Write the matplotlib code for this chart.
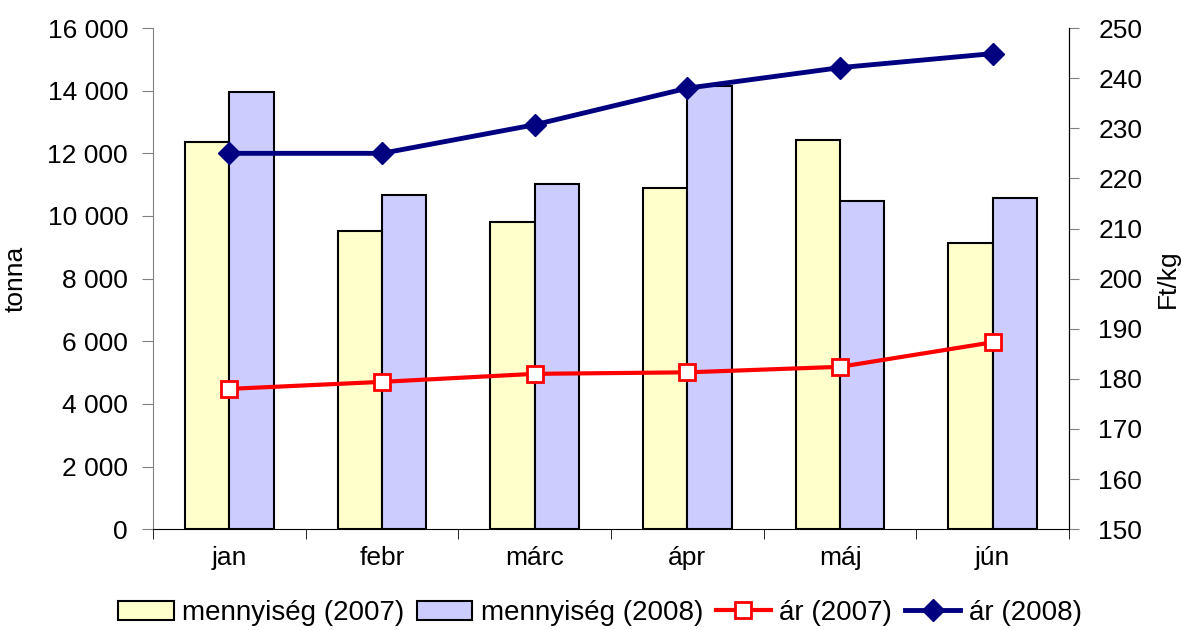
import matplotlib.pyplot as plt
import numpy as np
from matplotlib.ticker import FuncFormatter, FixedLocator

plt.rcParams['font.family'] = ['Liberation Sans', 'DejaVu Sans']
plt.rcParams['font.size'] = 19

months = ['jan', 'febr', 'márc', 'ápr', 'máj', 'jún']
qty_2007 = [12370, 9520, 9810, 10890, 12430, 9140]
qty_2008 = [13950, 10660, 11010, 14150, 10490, 10580]
price_2007 = [178.0, 179.4, 181.0, 181.3, 182.4, 187.3]
price_2008 = [225.0, 225.0, 230.7, 238.0, 242.1, 244.9]


def main():
    fig = plt.figure(figsize=(11.81, 6.30), dpi=100)
    ax = fig.add_axes([0.1296, 0.160, 0.7756, 0.7955])
    ax2 = ax.twinx()

    x = np.arange(len(months))
    w = 0.29
    b1 = ax.bar(x - w / 2, qty_2007, w, color='#FFFFCC', edgecolor='black',
                linewidth=1.5, label='mennyiség (2007)', zorder=2)
    b2 = ax.bar(x + w / 2, qty_2008, w, color='#CCCCFF', edgecolor='black',
                linewidth=1.5, label='mennyiség (2008)', zorder=2)

    l1, = ax2.plot(x, price_2007, '-', color='#FF0000', lw=3, marker='s',
                   markersize=11, markerfacecolor='white', markeredgecolor='#FF0000',
                   markeredgewidth=2, label='ár (2007)')
    l2, = ax2.plot(x, price_2008, '-', color='#000080', lw=3.5, marker='D',
                   markersize=11, markerfacecolor='#000080', markeredgecolor='#000080',
                   label='ár (2008)')

    ax.set_xlim(-0.5, len(months) - 0.5)
    ax.set_ylim(0, 16000)
    ax.set_yticks(np.arange(0, 16001, 2000))
    ax.yaxis.set_major_formatter(FuncFormatter(lambda v, p: f'{int(v):,}'.replace(',', ' ')))
    ax2.set_ylim(150, 250)
    ax2.set_yticks(np.arange(150, 251, 10))

    ax.set_xticks(x)
    ax.set_xticklabels(months)
    ax.tick_params(axis='x', which='major', length=0, pad=12)
    ax.xaxis.set_minor_locator(FixedLocator(np.arange(-0.5, len(months), 1.0)))
    ax.tick_params(axis='x', which='minor', length=7, direction='out', color='black')
    ax.tick_params(axis='y', length=8, direction='out', color='#808080', pad=10)
    ax2.tick_params(axis='y', length=7, direction='out', color='#808080', pad=14)

    for a in (ax, ax2):
        a.spines['top'].set_visible(False)
    ax.spines['left'].set_color('#808080')
    ax2.spines['left'].set_visible(False)
    ax2.spines['bottom'].set_visible(False)
    ax2.spines['right'].set_color('black')

    ax.set_ylabel('tonna', fontsize=19, labelpad=14)
    ax2.set_ylabel('Ft/kg', fontsize=19, labelpad=10)

    fig.legend([b1, b2, l1, l2],
               ['mennyiség (2007)', 'mennyiség (2008)', 'ár (2007)', 'ár (2008)'],
               loc='center', bbox_to_anchor=(0.508, 0.027), ncol=4, frameon=False,
               handlelength=2.0, handletextpad=0.3, columnspacing=0.45, fontsize=20)

    fig.savefig('out.png', dpi=100)


if __name__ == '__main__':
    main()
